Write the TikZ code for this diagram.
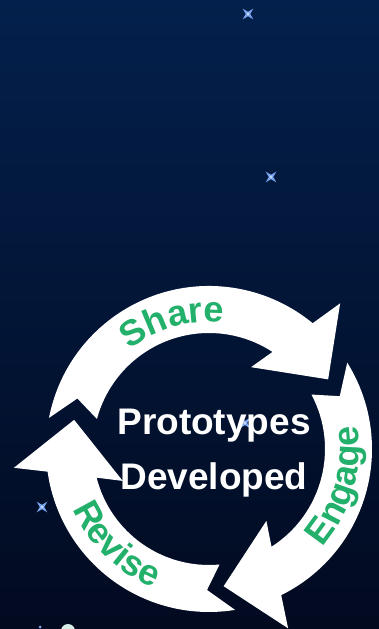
\documentclass[tikz,border=0pt]{standalone}
\usepackage{fontspec}
\setmainfont{Liberation Sans}
\usetikzlibrary{decorations.text}
\definecolor{skytop}{HTML}{03204C}
\definecolor{skymid}{HTML}{021536}
\definecolor{skybottom}{HTML}{020A20}
\definecolor{labelgreen}{HTML}{22B06B}
\definecolor{starblue}{HTML}{7AA5F0}
\definecolor{blobgreen}{HTML}{D5EFE6}
\newcommand\labelfont{\fontsize{36}{42}\selectfont\bfseries}
\newcommand\centrefont{\fontsize{37}{44}\selectfont\bfseries}

\begin{document}
\begin{tikzpicture}[x=1pt,y=1pt,
    cyclearrow/.style={fill=white},
    steplabel/.style={decorate,decoration={text along path,text align=center,text color=labelgreen}},
    centretext/.style={text=white,font=\centrefont,anchor=base}]
  % background
  \shade[top color=skytop,middle color=skymid,bottom color=skybottom] (0,0) rectangle (379,629);
  \useasboundingbox (0,0) rectangle (379,629);
  \clip (0,0) rectangle (379,629);
  % stars
  \foreach \sx/\sy in {248/615,271/452,42/122,245/206}{
    \fill[starblue] (\sx,\sy) +(45:7.5) -- +(0:2.2) -- +(-45:7.5) -- +(-90:2.2)
      -- +(-135:7.5) -- +(180:2.2) -- +(135:7.5) -- +(90:2.2) -- cycle;
    \fill[starblue!45!white] (\sx,\sy) circle (1.6);
  }
  \fill[starblue] (40,2) circle (1.5);
  \fill[blobgreen] (68,-2) circle (7);
  \begin{scope}[shift={(209,180)}]
    % the three arrows of the cycle
    \foreach \tail/\join in {169/50.5, 32/-63.7, 279.2/188}
      \fill[cyclearrow] (\tail:163) arc[start angle=\tail,end angle=\join,radius=163]
        -- (\join-2.5:196) -- (\join-20.2:138) -- (\join+12.3:92) -- (\join+6.3:116)
        arc[start angle=\join+6.3,end angle=\tail-4,radius=116]
        -- (\tail-10:141) -- cycle;
    % labels on the arrows
    \path[steplabel,decoration={text={|\labelfont|Share}}] (134:127) arc[start angle=134,end angle=78,radius=127];
    \path[steplabel,decoration={text={|\labelfont|Engage}}] (-48:150) arc[start angle=-48,end angle=16,radius=150];
    \path[steplabel,decoration={text={|\labelfont|Revise}}] (196:149) arc[start angle=196,end angle=256,radius=149];
    \node[centretext] (proto) at (5,14) {Prototypes};
    \node[centretext] (devel) at (5,-41) {Developed};
  \end{scope}
\end{tikzpicture}
\end{document}
